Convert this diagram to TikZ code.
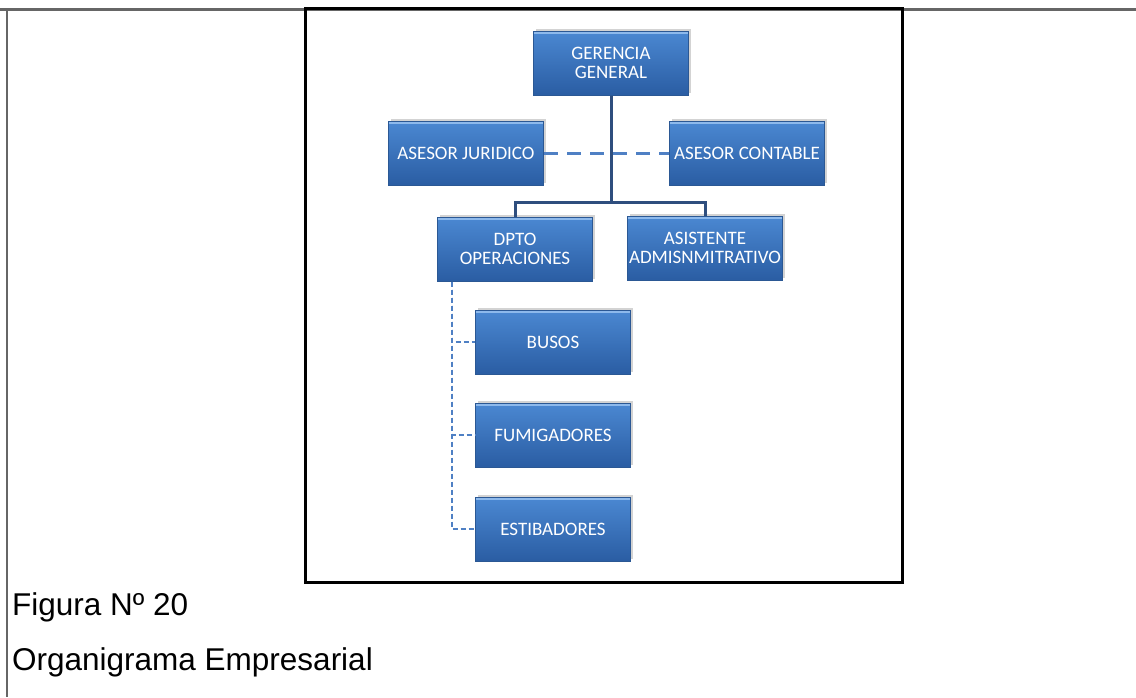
\documentclass[tikz,border=0pt]{standalone}
\usepackage{fontspec}
\setmainfont{Liberation Sans}
\newfontfamily\boxfont{Carlito}
\usetikzlibrary{shadows}

\definecolor{boxtop}{HTML}{4B88D2}
\definecolor{boxbot}{HTML}{2A5DA3}
\definecolor{boxline}{HTML}{2B5894}
\definecolor{bevel}{HTML}{8DB9EC}
\definecolor{navy}{HTML}{2F4E7E}
\definecolor{dashblue}{HTML}{4F80C4}

\tikzset{
    unit/.style={rectangle, minimum width=155, minimum height=64, inner sep=1,
        top color=boxtop, bottom color=boxbot, draw=boxline, line width=1,
        drop shadow={shadow xshift=2, shadow yshift=-2, opacity=0.35, fill=gray},
        text=white, align=center, font=\boxfont\fontsize{19}{18.5}\selectfont,
        path picture={\draw[bevel, line width=2]
            ([yshift=-2]path picture bounding box.north west) --
            ([yshift=-2]path picture bounding box.north east);}},
    mando/.style={navy, line width=3},
    apoyo/.style={dashblue, line width=3, dash pattern=on 14 off 9},
    grupo/.style={dashblue, line width=2.6, dash pattern=on 5 off 3},
    caption/.style={anchor=base west, inner sep=0, font=\fontsize{31.5}{32}\selectfont}
}

\begin{document}
\begin{tikzpicture}[x=1pt, y=-1pt]

    % Page
    \useasboundingbox (0,0) rectangle (1136,697);
    \draw[gray!80!black, line width=2.2] (0,9.5) -- (1136,9.5);
    \draw[gray!80!black, line width=2.2] (7,8.5) -- (7,697);

    % Frame of the picture
    \draw[line width=3] (305,8) rectangle (902,582);

    % Units
    \node[unit] (gerencia) at (611,63) {GERENCIA\\GENERAL};
    \node[unit] (juridico) at (466,153) {ASESOR JURIDICO};
    \node[unit] (contable) at (747,153) {ASESOR CONTABLE};
    \node[unit] (dpto) at (515,249) {DPTO\\OPERACIONES};
    \node[unit] (asistente) at (705,248) {ASISTENTE\\ADMISNMITRATIVO};
    \node[unit] (busos) at (553,342) {BUSOS};
    \node[unit] (fumigadores) at (553,435) {FUMIGADORES};
    \node[unit] (estibadores) at (553,529) {ESTIBADORES};

    % Lines of command
    \coordinate (split) at (611,202);
    \coordinate (rail) at ([xshift=15]dpto.south west);
    \begin{scope}[on background layer/.try]
        \draw[apoyo] (juridico.east) -- (contable.west);
        \draw[mando] (gerencia.south) -- (split);
        \draw[mando] (dpto.north) |- (split) -| (asistente.north);
        \draw[grupo] (rail) |- (busos.west);
        \draw[grupo] (rail) |- (fumigadores.west);
        \draw[grupo] (rail) |- (estibadores.west);
    \end{scope}

    % Caption
    \node[caption] (numero) at (12,615) {Figura Nº 20};
    \node[caption] (titulo) at (12,670) {Organigrama Empresarial};

\end{tikzpicture}
\end{document}
